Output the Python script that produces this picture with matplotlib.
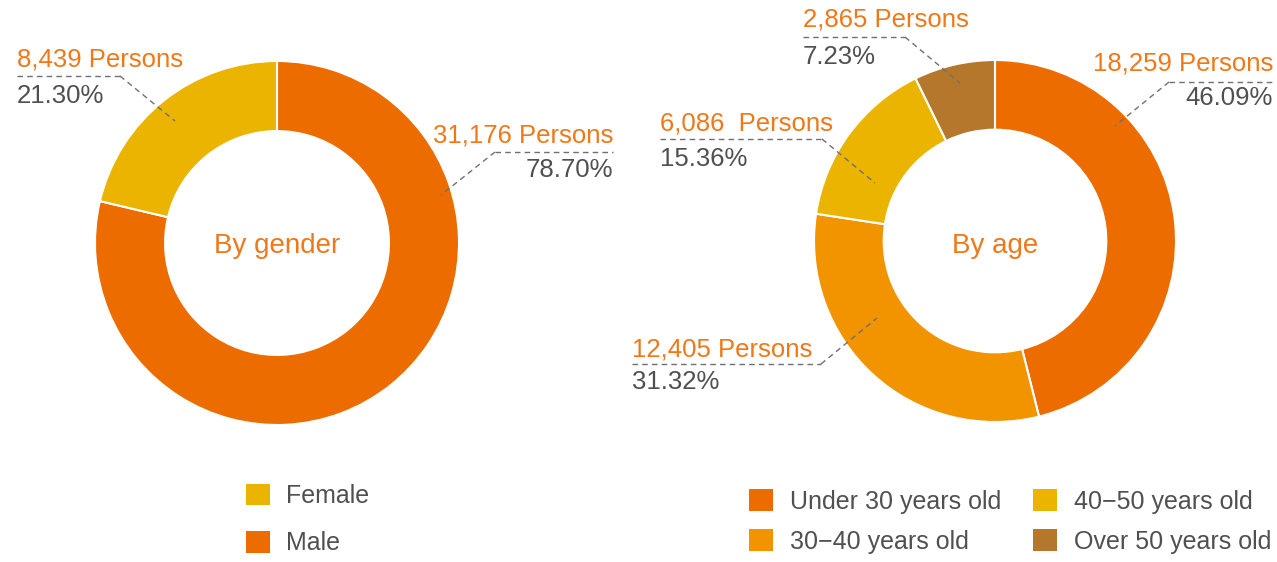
import matplotlib
matplotlib.use("Agg")
import matplotlib.pyplot as plt

plt.rcParams['font.family'] = ['Liberation Sans', 'DejaVu Sans']

# data
gender_labels = ["Male", "Female"]
gender_values = [31176, 8439]
gender_pct = ["78.70%", "21.30%"]
gender_text = ["31,176 Persons", "8,439 Persons"]

age_labels = ["Under 30 years old", "30\u221240 years old", "40\u221250 years old", "Over 50 years old"]
age_values = [18259, 12405, 6086, 2865]
age_pct = ["46.09%", "31.32%", "15.36%", "7.23%"]
age_text = ["18,259 Persons", "12,405 Persons", "6,086  Persons", "2,865 Persons"]

ORANGE = "#EC6C00"
GOLD = "#EAB400"
AMBER = "#F29400"
BROWN = "#B5772C"
gender_colors = [ORANGE, GOLD]
age_colors = [ORANGE, AMBER, GOLD, BROWN]

TXT_OR = "#F07818"
TXT_GR = "#505050"
LINE = "#707070"

W, H = 1277, 562
fig = plt.figure(figsize=(W / 100, H / 100), dpi=100)


def donut(cx, cy, r, values, colors):
    ax = fig.add_axes([(cx - r) / W, (H - cy - r) / H, 2 * r / W, 2 * r / H])
    wedges, _ = ax.pie(values, colors=colors, startangle=90, counterclock=False,
                       radius=1, wedgeprops=dict(width=0.385, edgecolor="white", linewidth=1.5))
    ax.set_xlim(-1, 1)
    ax.set_ylim(-1, 1)
    ax.set_aspect("equal")
    ax.axis("off")
    return wedges


g_wedges = donut(277, 243, 182, gender_values, gender_colors)
a_wedges = donut(995, 241, 181, age_values, age_colors)

# overlay in pixel coordinates for labels
ov = fig.add_axes([0, 0, 1, 1], zorder=5)
ov.set_xlim(0, W)
ov.set_ylim(H, 0)
ov.axis("off")
ov.patch.set_alpha(0)

FS = 18.5


def callout(text, pct, tx, base, line_y, x0, x1, anchor, elbow_x, ha, pct_base):
    ov.text(tx, base, text, color=TXT_OR, fontsize=FS, ha=ha, va="baseline")
    ov.text(tx, pct_base, pct, color=TXT_GR, fontsize=FS, ha=ha, va="baseline")
    ov.plot([x0, x1], [line_y, line_y], color=LINE, lw=1, ls=(0, (4, 3)))
    ov.plot([elbow_x, anchor[0]], [line_y, anchor[1]], color=LINE, lw=1, ls=(0, (4, 3)))


# gender
callout(gender_text[1], gender_pct[1], 17, 67, 76, 17, 120, (175, 121), 120, "left", 103)
callout(gender_text[0], gender_pct[0], 613, 143, 152, 495, 613, (441, 195), 495, "right", 177)
# age
callout(age_text[3], age_pct[3], 803, 27, 37, 803, 905, (960, 83), 905, "left", 64)
callout(age_text[2], age_pct[2], 660, 130, 139, 660, 822, (875, 183), 822, "left", 166)
callout(age_text[0], age_pct[0], 1273, 70, 82, 1169, 1273, (1115, 126), 1169, "right", 105)
callout(age_text[1], age_pct[1], 632, 357, 364, 632, 821, (877, 318), 821, "left", 389)

ov.text(277, 253, "By gender", color=TXT_OR, fontsize=20, ha="center", va="baseline")
ov.text(995, 253, "By age", color=TXT_OR, fontsize=20, ha="center", va="baseline")

leg_kw = dict(frameon=False, borderpad=0, borderaxespad=0, fontsize=18,
              handlelength=0.96, handleheight=0.96,
              labelcolor=TXT_GR, loc="center left")
l1 = fig.legend([g_wedges[1], g_wedges[0]], [gender_labels[1], gender_labels[0]],
                bbox_to_anchor=(246 / W, 1 - 519.5 / H), handletextpad=0.64,
                labelspacing=0.91, **leg_kw)
l2 = fig.legend(a_wedges, age_labels, ncol=2, columnspacing=1.28,
                bbox_to_anchor=(749 / W, 1 - 521.5 / H), handletextpad=0.68,
                labelspacing=0.63, **leg_kw)
for leg in (l1, l2):
    for h in leg.legend_handles:
        h.set_edgecolor("none")

fig.savefig("out.png", dpi=100)
